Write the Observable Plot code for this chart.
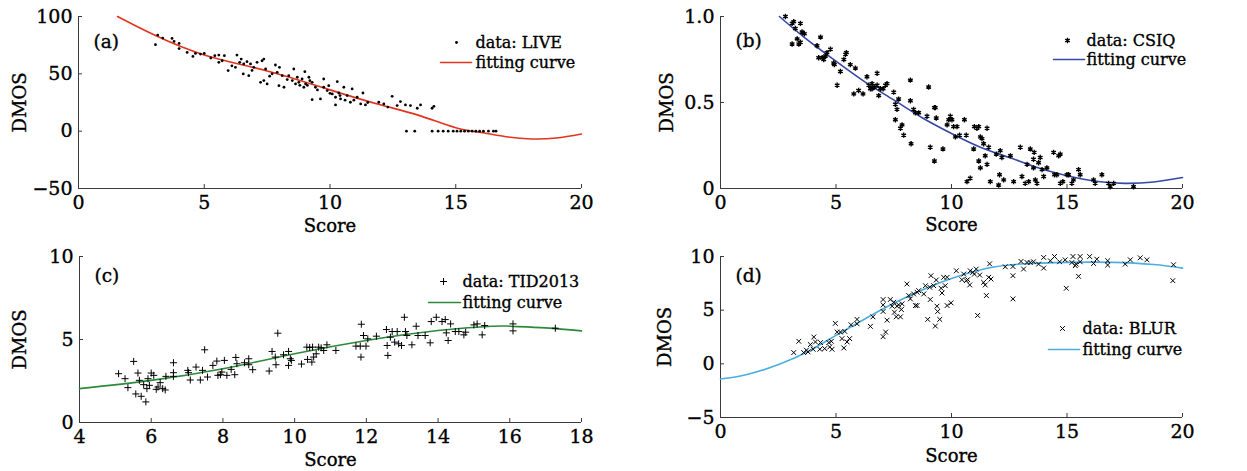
<!DOCTYPE html>
<html><head><meta charset="utf-8">
<script src="https://cdn.jsdelivr.net/npm/d3@7"></script>
<script src="https://cdn.jsdelivr.net/npm/@observablehq/plot@0.6"></script>
<style>
body{margin:0;background:#fff;}
#wrap{position:relative;width:1247px;height:471px;overflow:hidden;background:#fff;}
#wrap > svg{position:absolute;overflow:visible;}
#wrap text{stroke:#000;stroke-width:0.35px;}
</style></head><body><div id="wrap"></div>
<script>
// ---------- (a) LIVE ----------
const liveX = [3.06,3.15,3.35,3.72,3.8,4.0,4.0,4.32,4.55,4.65,4.85,5.0,5.26,5.42,5.58,5.8,5.58,5.71,5.95,6.3,6.47,6.41,6.24,6.57,6.7,6.84,6.97,7.1,7.3,7.37,6.77,6.55,7.24,7.37,7.5,7.44,7.83,7.99,7.9,8.1,7.97,8.17,8.36,8.56,8.5,8.63,8.76,8.89,9.0,8.96,9.03,9.16,9.29,9.29,9.62,9.42,9.75,9.75,9.89,9.95,10.09,10.22,10.29,10.22,10.35,10.42,10.55,10.68,10.88,10.81,11.08,11.22,11.31,11.41,11.94,12.14,12.47,12.67,12.8,13.0,13.2,13.47,13.6,14.06,14.13,6.1,6.9,7.7,8.3,8.7,9.1,9.5,10.0,10.4,10.95,11.5,12.3,8.8,9.2,7.6,10.6,13.04,13.37,14.06,14.3,14.5,14.7,14.9,15.05,15.2,15.35,15.5,15.65,15.8,15.95,16.1,16.3,16.5,16.6];
const liveY = [75.4,83.8,81.2,80.9,78.3,76.5,72,68.7,65.2,67.8,67.2,67.8,63.8,65.8,66.4,65.8,60,61.4,52.8,66.4,62.9,60,55.7,58.6,60.6,58.6,55.7,60,61.4,62.9,48.4,49.9,42.6,44.1,41.2,54.2,57.7,55.7,51.3,48.4,39.7,38.3,48.4,54.2,44.1,41.2,42.6,45.5,51.9,38.3,41.2,47,42.6,27.5,28.1,38.3,45.5,38.3,35.4,39.7,32.5,29.6,43.2,22.9,33.3,28.1,38.3,31,36.8,25.2,29.6,23.8,33.3,22.9,25.2,23.8,30.4,22.3,25.8,22.9,22.3,20,22.9,20,21.7,57,53,50,45,47,40,36,33,31,27,25,21,40,44,48,27,0,0,0,0,0,0,0,0,0,0,0,0,0,0,0,0,0,0];
const liveCurveX = [1.55,3,5,7.5,10,12,13.5,15,16,17,18,19,20];
const liveCurveY = [100,84,66.5,52.5,36,23,14,3,-1.2,-4.8,-6.8,-6,-2.5];

// ---------- (b) CSIQ ----------
const csiqX = [2.81,3.10,3.17,3.24,3.46,3.10,3.32,3.39,3.46,3.53,3.63,4.18,4.33,4.25,4.40,4.47,4.54,4.61,4.76,4.90,4.93,5.05,5.19,5.34,5.41,5.45,5.62,5.84,5.77,5.98,6.17,6.34,6.42,6.49,6.56,6.66,6.78,6.56,6.78,6.85,6.92,7.04,7.14,7.21,7.50,7.57,7.64,7.71,7.57,7.79,7.86,7.93,8.22,8.22,8.25,8.36,8.44,8.58,8.94,9.01,9.08,9.26,9.30,9.34,9.63,9.26,9.81,9.88,9.95,10.02,10.09,10.24,10.17,10.35,10.56,10.64,10.67,10.81,10.96,10.99,11.10,11.18,11.18,11.25,11.25,11.32,11.39,11.46,11.54,11.54,11.61,11.68,11.94,12.04,12.08,12.11,12.18,12.26,12.55,12.69,12.98,13.05,13.19,13.27,13.34,13.41,13.55,13.55,13.63,13.70,13.58,13.77,13.84,13.92,13.99,14.13,14.42,14.46,14.56,14.64,14.71,14.71,14.82,15.00,15.07,15.21,15.28,15.50,15.57,16.15,16.22,16.51,16.80,16.87,17.02,17.88];
const csiqY = [1.00,0.96,0.97,0.93,0.96,0.84,0.87,0.84,0.85,0.91,0.90,0.83,0.88,0.76,0.76,0.75,0.77,0.79,0.81,0.73,0.72,0.60,0.68,0.75,0.78,0.79,0.72,0.70,0.55,0.57,0.55,0.65,0.60,0.58,0.61,0.59,0.60,0.58,0.67,0.54,0.58,0.58,0.60,0.61,0.56,0.49,0.46,0.52,0.40,0.35,0.37,0.31,0.51,0.63,0.26,0.46,0.44,0.44,0.42,0.59,0.24,0.47,0.47,0.41,0.23,0.16,0.37,0.40,0.42,0.40,0.36,0.36,0.30,0.31,0.40,0.31,0.04,0.06,0.23,0.36,0.35,0.36,0.16,0.30,0.12,0.29,0.26,0.19,0.35,0.14,0.24,0.04,0.20,0.02,0.08,0.22,0.18,0.05,0.19,0.04,0.24,0.07,0.03,0.14,0.04,0.23,0.17,0.12,0.05,0.03,0.21,0.15,0.18,0.11,0.07,0.12,0.21,0.08,0.08,0.19,0.20,0.03,0.04,0.08,0.08,0.03,0.05,0.11,0.08,0.05,0.03,0.08,0.03,0.01,0.03,0.01];
const csiqCurveX = [2.55,3.75,5,6.25,7.5,8.75,10,11.25,12.5,13.75,15,16.25,17.5,18.75,20];
const csiqCurveY = [1.0,0.865,0.74,0.62,0.515,0.41,0.32,0.24,0.18,0.12,0.074,0.042,0.03,0.038,0.064];

// ---------- (c) TID2013 ----------
const tidX = [5.09,5.27,5.35,5.51,5.57,5.63,5.67,5.72,5.79,5.85,5.88,5.91,5.95,6.00,6.07,6.14,6.19,6.25,6.32,6.39,6.41,6.62,6.62,6.62,7.02,7.04,7.09,7.25,7.37,7.43,7.49,7.57,7.72,7.83,7.86,7.93,7.97,8.04,8.11,8.23,8.33,8.36,8.39,8.60,8.72,8.72,8.83,9.29,9.37,9.48,9.46,9.53,9.69,9.83,9.83,9.88,9.91,10.19,10.34,10.36,10.42,10.48,10.50,10.53,10.60,10.67,10.74,10.81,10.90,11.15,11.71,11.83,11.86,11.85,11.92,11.99,12.04,12.28,12.56,12.58,12.60,12.67,12.72,12.79,12.86,12.90,12.98,13.06,13.09,13.13,13.27,13.39,13.44,13.64,13.78,13.81,13.95,14.11,14.20,14.23,14.28,14.35,14.48,14.58,14.72,14.77,15.00,15.09,15.23,15.30,16.09,16.09,17.27];
const tidY = [2.94,2.64,2.10,3.68,1.72,2.98,2.54,1.58,2.28,1.24,2.04,2.64,2.24,2.98,2.84,2.00,2.14,2.40,2.04,1.96,2.78,3.60,3.00,2.78,3.14,3.00,2.56,3.34,2.56,3.14,4.38,2.74,3.44,3.70,2.84,2.88,3.04,3.74,2.84,3.20,2.88,3.92,3.54,3.60,3.84,3.48,3.18,3.10,4.28,3.48,3.94,5.38,4.08,4.28,3.44,3.84,3.74,3.52,4.54,3.80,4.52,3.64,4.54,3.94,4.14,4.54,4.50,4.34,4.68,4.34,4.60,4.60,5.92,3.94,5.24,4.60,5.04,5.20,5.60,4.64,4.04,5.14,5.48,4.84,5.48,4.74,4.64,6.34,5.48,5.24,4.68,5.80,5.24,5.24,4.80,6.08,6.34,6.08,6.20,5.40,4.94,5.94,5.48,5.48,5.28,5.44,5.88,5.94,5.28,5.84,5.94,5.52,5.68];
const tidCurveX = [4,6,8,10,12,14,15.5,16,17,18];
const tidCurveY = [2.04,2.54,3.24,4.14,4.94,5.54,5.8,5.8,5.7,5.52];

// ---------- (d) BLUR ----------
const blurX = [3.17,3.39,3.60,3.72,3.79,3.89,4.04,4.01,4.11,4.30,4.33,4.51,4.69,4.73,4.83,4.80,4.97,5.05,5.19,5.26,5.34,5.38,5.48,5.59,5.65,5.91,5.91,6.49,6.60,7.04,7.04,7.04,7.04,7.15,7.21,7.35,7.43,7.50,7.53,7.61,7.64,7.71,7.79,7.83,7.86,8.07,8.15,8.22,8.36,8.44,8.51,8.51,8.58,8.80,8.87,8.97,9.06,9.08,9.11,9.23,9.30,9.34,9.37,9.40,9.49,9.55,9.59,9.66,9.73,9.81,9.81,9.98,10.21,10.45,10.53,10.64,10.70,10.79,10.81,10.92,10.99,11.07,11.13,11.22,11.39,11.46,11.51,11.61,11.65,11.71,12.33,12.66,12.66,12.66,13.01,13.12,13.27,13.41,13.55,13.77,13.99,13.99,14.28,14.46,14.68,14.92,14.97,15.21,15.26,15.36,15.40,15.50,15.57,15.57,15.98,16.15,16.29,16.76,16.76,17.52,17.74,18.17,18.46,19.61,19.58];
const blurY = [1.05,2.10,1.05,1.27,1.11,1.79,2.50,1.36,2.04,1.36,1.98,1.42,1.98,1.57,1.36,2.10,3.77,2.96,2.96,2.35,1.48,3.02,2.04,2.35,3.64,3.73,4.14,3.49,4.38,2.53,4.88,5.49,5.99,2.96,4.07,5.99,5.37,5.74,4.81,4.38,5.37,5.49,4.38,5.06,5.59,7.44,6.36,6.05,6.51,5.43,5.43,6.67,6.82,6.51,7.28,4.14,7.13,5.99,8.21,7.28,3.52,7.81,5.37,4.88,4.14,7.04,6.60,8.06,7.28,8.06,5.43,5.68,8.67,7.84,8.36,7.75,7.84,7.35,8.67,8.52,8.36,8.83,4.51,8.27,7.59,7.35,6.36,8.06,9.32,7.90,9.04,9.07,8.21,6.05,9.54,8.83,9.44,9.44,9.51,9.29,9.91,8.92,9.60,10.0,9.51,9.69,7.04,9.44,10.0,9.14,9.29,8.15,10.0,9.51,10.0,9.35,9.75,9.60,9.20,9.29,9.69,9.88,9.69,9.23,7.75];
const blurCurveX = [0,1.15,2.6,3.89,5,6.34,7.5,8.8,10,11.54,13,15,17,18.75,20];
const blurCurveY = [-1.42,-0.99,0,1.27,2.65,4.3,5.65,6.95,7.95,8.9,9.3,9.45,9.45,9.25,8.92];

const FONT = "'DejaVu Serif', serif";
const wrap = document.getElementById("wrap");

function panel(o) {
  const [mt, mr, mb, ml] = o.margins;
  const fw = o.width - ml - mr, fh = o.height - mt - mb;
  // frame pixel -> data value (same mapping as the plot's own linear scales)
  const sx = d3.scaleLinear([0, fw], o.xDomain);
  const sy = d3.scaleLinear([0, fh], [o.yDomain[1], o.yDomain[0]]);
  const pts = o.px.map((x, i) => ({x, y: o.py[i]}));
  const crv = o.cx.map((x, i) => ({x, y: o.cy[i]}));
  const L = o.leg;
  const legLine = [{x: sx(L.lx1), y: sy(L.ly)}, {x: sx(L.lx2), y: sy(L.ly)}];
  const axisColor = "#3a3a3a";
  const svg = Plot.plot({
    width: o.width, height: o.height,
    marginTop: mt, marginRight: mr, marginBottom: mb, marginLeft: ml,
    x: {domain: o.xDomain}, y: {domain: o.yDomain},
    style: {fontFamily: FONT, fontSize: "19px", color: "#000", background: "transparent"},
    marks: [
      Plot.ruleX([o.xDomain[0]], {stroke: axisColor, strokeWidth: 1}),
      Plot.ruleY([o.yDomain[0]], {stroke: axisColor, strokeWidth: 1}),
      Plot.tickX(o.xTicks, {x: d => d, insetTop: fh - 4, stroke: axisColor}),
      Plot.tickY(o.yTicks, {y: d => d, insetRight: fw - 4, stroke: axisColor}),
      Plot.axisX(o.xTicks, {tickSize: 0, tickPadding: 7, label: null, fontSize: 19}),
      Plot.axisY(o.yTicks, {tickSize: 0, tickPadding: 6, label: null, tickFormat: o.yFormat, fontSize: 19}),
      Plot.line(crv, {x: "x", y: "y", stroke: o.color, strokeWidth: 1.6, curve: "natural"}),
      Plot.dot(pts, {x: "x", y: "y", symbol: o.symbol, r: o.r, ...o.dotStyle}),
      Plot.text([o.tag], {frameAnchor: "top-left", dx: 15, dy: o.tagDy, text: d => d, textAnchor: "start", lineAnchor: "middle", fontSize: 18.5}),
      Plot.text(["Score"], {frameAnchor: "bottom", dy: o.scoreDy, text: d => d, lineAnchor: "middle", fontSize: 18}),
      Plot.text(["DMOS"], {frameAnchor: "left", dx: o.dmosDx, rotate: -90, text: d => d, textAnchor: "middle", lineAnchor: "middle", fontSize: 18}),
      // legend
      Plot.dot([0], {frameAnchor: "top-left", dx: L.mx, dy: L.my, symbol: o.symbol, r: o.r, ...o.dotStyle}),
      Plot.text([o.legendName], {frameAnchor: "top-left", dx: L.tx, dy: L.my, text: d => d, textAnchor: "start", lineAnchor: "middle", fontSize: 16}),
      Plot.line(legLine, {x: "x", y: "y", stroke: o.color, strokeWidth: 1.6}),
      Plot.text(["fitting curve"], {frameAnchor: "top-left", dx: L.tx, dy: L.ly, text: d => d, textAnchor: "start", lineAnchor: "middle", fontSize: 16})
    ]
  });
  svg.style.left = o.left + "px";
  svg.style.top = o.top + "px";
  wrap.appendChild(svg);
}

const fmtB = d => d === 0 ? "0" : d.toFixed(1);

panel({left: 0, top: 0, width: 623, height: 235, margins: [16, 42, 47, 78],
  xDomain: [0, 20], yDomain: [-50, 100], xTicks: [0, 5, 10, 15, 20], yTicks: [-50, 0, 50, 100],
  px: liveX, py: liveY, cx: liveCurveX, cy: liveCurveY, color: "#e2331f",
  symbol: "circle", r: 1.4, dotStyle: {fill: "#000", stroke: "none"},
  tag: "(a)", tagDy: 26, scoreDy: 38, dmosDx: -58, legendName: "data: LIVE",
  leg: {mx: 378, my: 26, tx: 397, ly: 46, lx1: 362, lx2: 393}
});
panel({left: 623, top: 0, width: 624, height: 235, margins: [16, 65, 47, 97],
  xDomain: [0, 20], yDomain: [0, 1], xTicks: [0, 5, 10, 15, 20], yTicks: [0, 0.5, 1], yFormat: fmtB,
  px: csiqX, py: csiqY, cx: csiqCurveX, cy: csiqCurveY, color: "#3548a6",
  symbol: "asterisk", r: 2.5, dotStyle: {stroke: "#000", strokeWidth: 1.4, fill: "none"},
  tag: "(b)", tagDy: 25, scoreDy: 37, dmosDx: -53, legendName: "data: CSIQ",
  leg: {mx: 347, my: 24, tx: 366, ly: 43, lx1: 333, lx2: 364}
});
panel({left: 0, top: 235, width: 623, height: 236, margins: [21, 42, 49, 79],
  xDomain: [4, 18], yDomain: [0, 10], xTicks: [4, 6, 8, 10, 12, 14, 16, 18], yTicks: [0, 5, 10],
  px: tidX, py: tidY, cx: tidCurveX, cy: tidCurveY, color: "#2c8a3a",
  symbol: "plus", r: 2.4, dotStyle: {stroke: "#000", strokeWidth: 1, fill: "none"},
  tag: "(c)", tagDy: 20, scoreDy: 38, dmosDx: -59, legendName: "data: TID2013",
  leg: {mx: 364, my: 25, tx: 383, ly: 46, lx1: 349, lx2: 381}
});
panel({left: 623, top: 235, width: 624, height: 236, margins: [21, 65, 54, 97],
  xDomain: [0, 20], yDomain: [-5, 10], xTicks: [0, 5, 10, 15, 20], yTicks: [-5, 0, 5, 10],
  px: blurX, py: blurY, cx: blurCurveX, cy: blurCurveY, color: "#4aaee0",
  symbol: "times", r: 2.3, dotStyle: {stroke: "#000", strokeWidth: 1, fill: "none"},
  tag: "(d)", tagDy: 20, scoreDy: 39, dmosDx: -55, legendName: "data: BLUR",
  leg: {mx: 342, my: 72, tx: 362, ly: 93, lx1: 328, lx2: 359}
});
</script>
</body></html>
